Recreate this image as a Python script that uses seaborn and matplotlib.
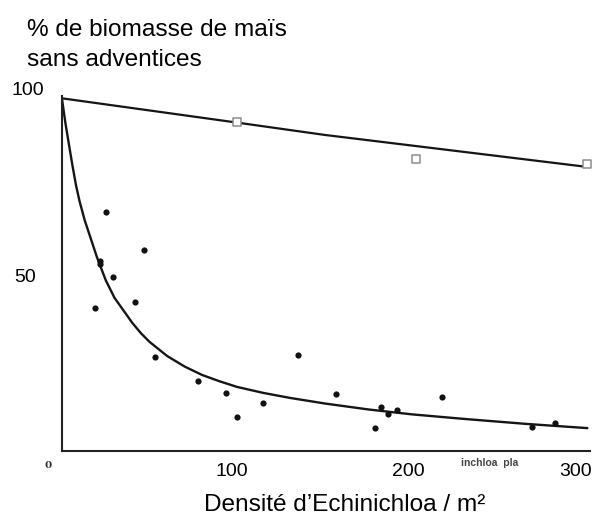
import matplotlib
matplotlib.use("Agg")
import matplotlib.pyplot as plt
from matplotlib.transforms import offset_copy, ScaledTranslation
import seaborn as sns
import pandas as pd

# Maize biomass (% of weed-free) against Echinochloa density (plants / m²)
dens_obs = [18.9, 21.7, 21.7, 25.1, 29.1, 41.7, 46.9, 53.1, 77.7, 93.7, 100.0,
            114.9, 134.9, 156.6, 178.9, 182.3, 186.3, 191.4, 217.1, 268.6, 281.7]
biom_obs = [40.6, 54.0, 53.1, 67.9, 49.4, 42.3, 57.1, 26.7, 19.9, 16.5, 9.7,
            13.6, 27.3, 16.2, 6.5, 12.5, 10.5, 11.6, 15.3, 6.8, 8.0]

# Fitted response curve for the dots
curve_dens = [0, 2, 4, 6, 8, 10, 13, 16, 20, 25, 30, 35, 40, 45, 50, 55, 60,
              70, 80, 90, 100, 115, 130, 150, 175, 200, 230, 265, 300]
curve_biom = [100.0, 93.0, 87.0, 81.0, 75.5, 71.0, 65.5, 61.0, 55.0, 48.5,
              43.5, 40.0, 36.5, 33.5, 31.0, 29.0, 27.0, 24.0, 21.6, 19.8,
              18.2, 16.5, 15.1, 13.5, 11.8, 10.4, 9.1, 7.7, 6.5]

# Second series (open squares) and its fitted line
dens_sq = [100, 202, 300]
biom_sq = [93.4, 83.0, 81.5]
line_dens = [0, 100, 150, 300]
line_biom = [100.2, 93.3, 89.8, 80.7]

x_ticks = [100, 200, 300]
x_tick_labels = ["100", "200", "300"]

sns.set_style("white")
plt.rcParams["font.family"] = ["Liberation Sans", "DejaVu Sans"]

W, H = 593, 519
fig = plt.figure(figsize=(W / 100, H / 100), dpi=100)
ax = fig.add_axes([62 / W, 1 - 451 / H, 528 / W, (451 - 95.5) / H])

obs = pd.DataFrame({"dens": dens_obs, "biom": biom_obs})
curve = pd.DataFrame({"dens": curve_dens, "biom": curve_biom})
sq = pd.DataFrame({"dens": dens_sq, "biom": biom_sq})
line = pd.DataFrame({"dens": line_dens, "biom": line_biom})

sns.lineplot(data=line, x="dens", y="biom", color="#151515", linewidth=1.6,
             estimator=None, sort=False, ax=ax)
sns.lineplot(data=curve, x="dens", y="biom", color="#151515", linewidth=1.7,
             estimator=None, sort=False, ax=ax)
sns.scatterplot(data=sq, x="dens", y="biom", marker="s", s=30,
                facecolor="white", edgecolor="#8c8c8c", linewidth=1.1,
                zorder=4, clip_on=False, ax=ax)
sns.scatterplot(data=obs, x="dens", y="biom", color="#111111", s=20,
                linewidth=0, zorder=5, clip_on=False, ax=ax)

ax.set_xlim(0, 301.5)
ax.set_ylim(0, 101)
ax.set_xlabel("")
ax.set_ylabel("")

for side in ("top", "right"):
    ax.spines[side].set_visible(False)
for side in ("left", "bottom"):
    ax.spines[side].set_color("#222222")
    ax.spines[side].set_linewidth(1.5)

ax.set_xticks(x_ticks)
ax.set_xticklabels(x_tick_labels)
ax.set_yticks([50])
ax.set_yticklabels(["50"])
ax.tick_params(axis="x", direction="in", length=7, width=1.3, color="#222222",
               pad=9, labelsize=14, labelcolor="black")
ax.tick_params(axis="y", direction="in", length=6, width=1.3, color="#222222",
               pad=19, labelsize=14, labelcolor="black")

# small nudges of tick labels
xlabels = ax.get_xticklabels()
shifts = [-5, -4, -12]
for lab, dx in zip(xlabels, shifts):
    lab.set_transform(lab.get_transform() + ScaledTranslation(dx / 100, 0, fig.dpi_scale_trans))

ax.text(0, 100, "100", transform=offset_copy(ax.transData, fig=fig, x=-18, y=9, units="dots"),
        ha="right", va="center", fontsize=14, color="black", clip_on=False)
ax.text(0, 0, "0", transform=offset_copy(ax.transData, fig=fig, x=-14, y=-14, units="dots"),
        ha="center", va="center", fontsize=7.5, fontweight="bold", color="#333333",
        family="DejaVu Serif", clip_on=False)
ax.text(244, 0, "inchloa  pla", transform=offset_copy(ax.transData, fig=fig, x=0, y=-12, units="dots"),
        ha="center", va="center", fontsize=7.5, fontweight="bold", color="#444444",
        clip_on=False)

fig.text(27 / W, 1 - 36 / H, "% de biomasse de maïs", ha="left", va="baseline",
         fontsize=17.6, color="black")
fig.text(27 / W, 1 - 66 / H, "sans adventices", ha="left", va="baseline",
         fontsize=17.6, color="black")
fig.text(345 / W, 1 - 511 / H, "Densité d\u2019Echinichloa / m\u00b2", ha="center",
         va="baseline", fontsize=17.6, color="black")

fig.savefig("out.png", dpi=100, facecolor="white")
